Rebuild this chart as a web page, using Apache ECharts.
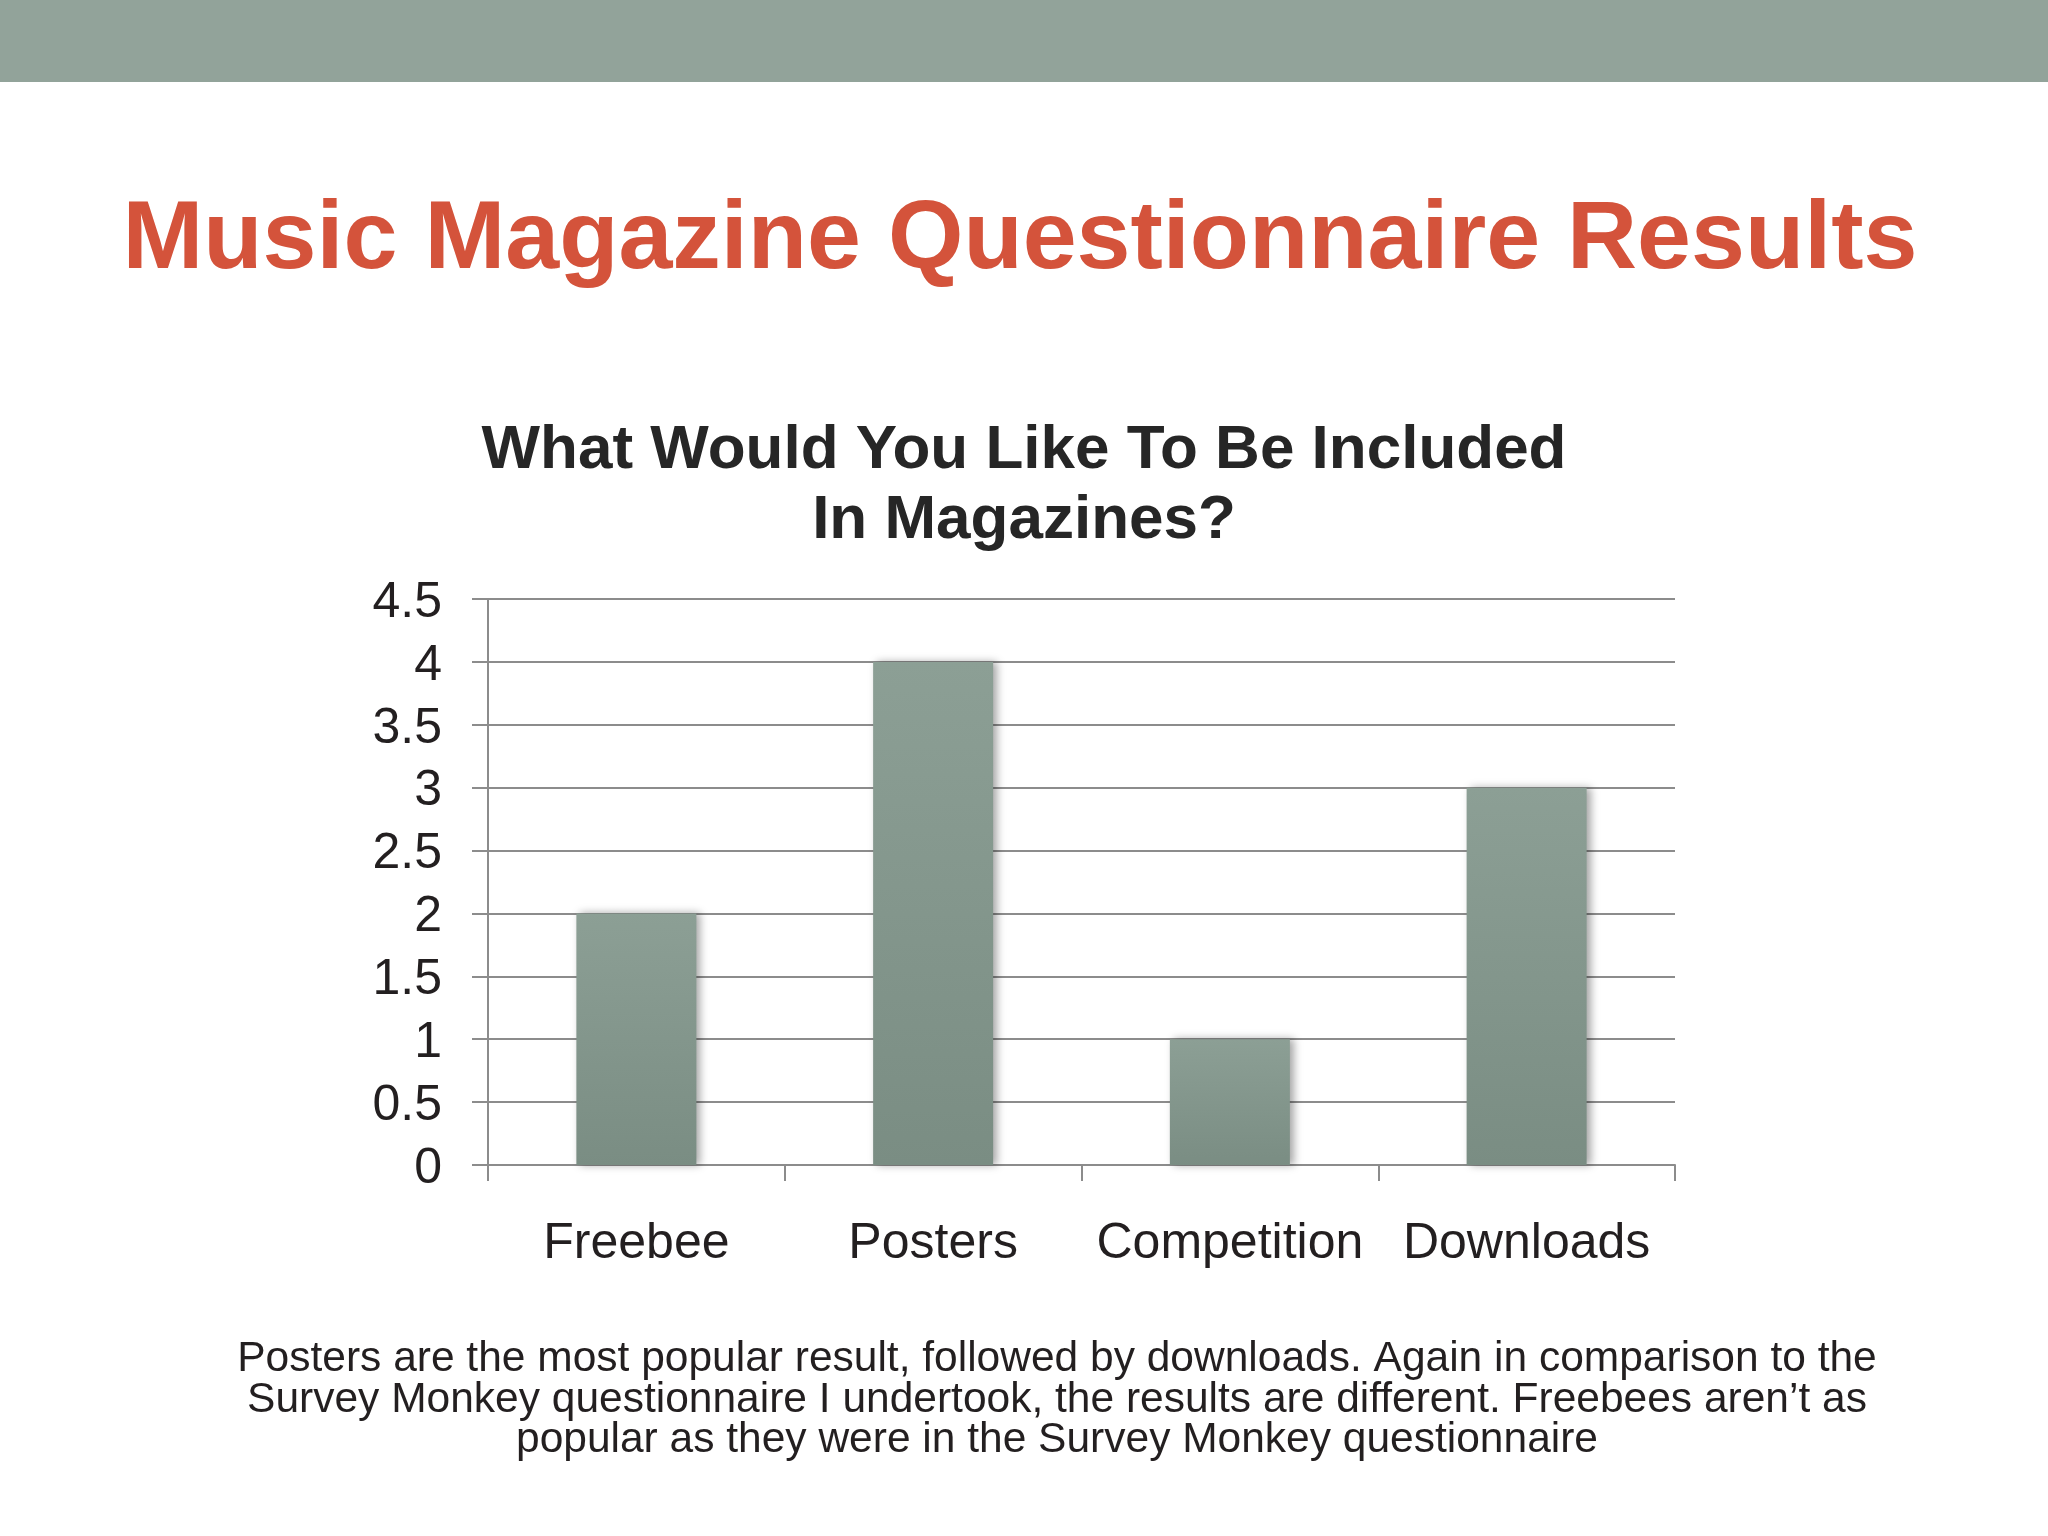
<!DOCTYPE html>
<html>
<head>
<meta charset="utf-8">
<script src="https://cdn.jsdelivr.net/npm/echarts@6/dist/echarts.min.js"></script>
<style>
  html, body { margin: 0; padding: 0; background: #fff; }
  #chart { width: 2048px; height: 1536px; }
</style>
</head>
<body>
<div id="chart"></div>
<script>
// categories and answers (number of people)
var categories = ['Freebee', 'Posters', 'Competition', 'Downloads'];
var answers = [2, 4, 1, 3];
var yTicks = [0, 0.5, 1, 1.5, 2, 2.5, 3, 3.5, 4, 4.5];

var slideTitle = 'Music Magazine Questionnaire Results';
var chartTitle = 'What Would You Like To Be Included\nIn Magazines?';
var notes = 'Posters are the most popular result, followed by downloads. Again in comparison to the\n' +
    'Survey Monkey questionnaire I undertook, the results are different. Freebees aren\u2019t as\n' +
    'popular as they were in the Survey Monkey questionnaire';

var font = '"Liberation Sans", Arial, Helvetica, sans-serif';

var chart = echarts.init(document.getElementById('chart'));

var option = {
    backgroundColor: '#ffffff',
    animation: false,
    graphic: [
        {   // band at the top of the slide
            type: 'rect',
            shape: { x: 0, y: 0, width: 2048, height: 82 },
            style: { fill: '#92a39a' }
        },
        {
            type: 'text',
            x: 1020, y: 241,
            style: {
                text: slideTitle,
                fontFamily: font, fontSize: 97, fontWeight: 'bold',
                fill: '#d4533b', align: 'center', verticalAlign: 'middle'
            }
        },
        {
            type: 'text',
            x: 1024, y: 486,
            style: {
                text: chartTitle,
                fontFamily: font, fontSize: 62, fontWeight: 'bold', lineHeight: 70,
                fill: '#262626', align: 'center', verticalAlign: 'middle'
            }
        },
        {
            type: 'text',
            x: 1057, y: 1400,
            style: {
                text: notes,
                fontFamily: font, fontSize: 42.5, lineHeight: 40.5,
                fill: '#231f20', align: 'center', verticalAlign: 'middle'
            }
        }
    ],
    grid: { left: 488, right: 373, top: 599, bottom: 371 },
    xAxis: {
        type: 'category',
        data: categories,
        axisLine: { lineStyle: { color: '#8c8c8c', width: 2 } },
        axisTick: { show: true, length: 16, lineStyle: { color: '#8c8c8c', width: 2 } },
        axisLabel: {
            interval: 0,
            fontFamily: font, fontSize: 50, color: '#231f20',
            margin: 79, verticalAlign: 'middle'
        }
    },
    yAxis: {
        type: 'value',
        min: yTicks[0],
        max: yTicks[yTicks.length - 1],
        interval: 0.5,
        axisLine: { show: true, lineStyle: { color: '#8c8c8c', width: 2 } },
        axisTick: { show: true, length: 16, lineStyle: { color: '#8c8c8c', width: 2 } },
        splitLine: { lineStyle: { color: '#8c8c8c', width: 2 } },
        axisLabel: {
            fontFamily: font, fontSize: 50, color: '#231f20', margin: 46,
            verticalAlign: 'top', lineHeight: 8,
            formatter: function (v) { return String(v); }
        }
    },
    series: [
        {
            type: 'bar',
            data: answers,
            barWidth: 120,
            itemStyle: {
                color: {
                    type: 'linear', x: 0, y: 0, x2: 0, y2: 1,
                    colorStops: [
                        { offset: 0, color: '#8c9f95' },
                        { offset: 1, color: '#7a8d83' }
                    ]
                },
                shadowColor: 'rgba(0,0,0,0.35)',
                shadowBlur: 8,
                shadowOffsetX: 4
            }
        }
    ]
};

chart.setOption(option);
</script>
</body>
</html>
